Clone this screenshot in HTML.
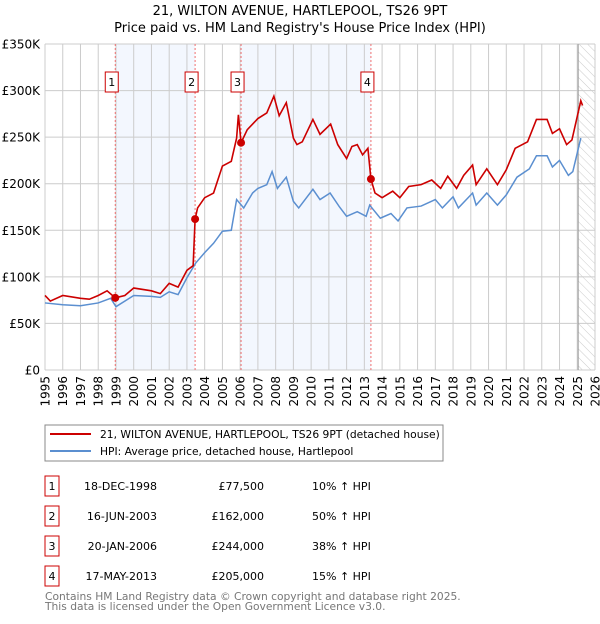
<!DOCTYPE html>
<html><head><meta charset="utf-8"><style>
body{margin:0;background:#fff;font-family:"DejaVu Sans","Liberation Sans",sans-serif;}
svg text{font-family:"DejaVu Sans","Liberation Sans",sans-serif;}
</style></head><body>
<svg id="c" width="600" height="620" viewBox="0 0 600 620" xmlns="http://www.w3.org/2000/svg">
<defs><pattern id="hatch" width="6" height="6" patternUnits="userSpaceOnUse" patternTransform="rotate(-45)"><line x1="0" y1="0" x2="0" y2="6" stroke="#ccc" stroke-width="1"/></pattern></defs>
<text x="300" y="15" text-anchor="middle" font-size="13">21, WILTON AVENUE, HARTLEPOOL, TS26 9PT</text>
<text x="300" y="32" text-anchor="middle" font-size="13">Price paid vs. HM Land Registry's House Price Index (HPI)</text>
<g id="plot"></g>
<rect x="45" y="425" width="398" height="36" fill="none" stroke="#888"/>
<line x1="50" y1="434" x2="91" y2="434" stroke="#cc0000" stroke-width="2"/>
<text x="100" y="438" font-size="10.7">21, WILTON AVENUE, HARTLEPOOL, TS26 9PT (detached house)</text>
<line x1="50" y1="451" x2="91" y2="451" stroke="#5b8fd0" stroke-width="2"/>
<text x="100" y="455" font-size="10.7">HPI: Average price, detached house, Hartlepool</text>
<g id="table"></g>
<text x="45" y="600" font-size="10.7" fill="#777">Contains HM Land Registry data © Crown copyright and database right 2025.</text>
<text x="45" y="610" font-size="10.7" fill="#777">This data is licensed under the Open Government Licence v3.0.</text>
</svg>
<script>
const yTicks=[0,50,100,150,200,250,300,350];
const yTickLabels=["£0","£50K","£100K","£150K","£200K","£250K","£300K","£350K"];
const xYears=[1995,1996,1997,1998,1999,2000,2001,2002,2003,2004,2005,2006,2007,2008,2009,2010,2011,2012,2013,2014,2015,2016,2017,2018,2019,2020,2021,2022,2023,2024,2025,2026];
const hpiT=[1995,1996,1997,1998,1998.7,1999,2000,2001,2001.5,2002,2002.5,2003,2003.5,2004,2004.5,2005,2005.5,2005.8,2006.2,2006.7,2007,2007.5,2007.8,2008.1,2008.6,2009,2009.3,2010.1,2010.5,2011.07,2011.6,2012,2012.6,2013.1,2013.3,2013.9,2014.5,2014.9,2015.4,2016.2,2017,2017.4,2018,2018.3,2019.1,2019.3,2019.9,2020.5,2021,2021.6,2022.3,2022.7,2023.3,2023.6,2024,2024.5,2024.75,2025.2];
const hpiV=[72,70,69,72,77,68,80,79,78,84,81,99,115,126,136,149,150,183,174,190,195,199,213,195,207,181,174,194,183,190,175,165,170,165,177,163,168,160,174,176,183,174,186,174,190,177,190,177,188,207,216,230,230,218,225,209,213,249];
const redT=[1995,1995.3,1996,1997,1997.5,1998,1998.5,1998.96,1999.5,2000,2001,2001.5,2002,2002.5,2003,2003.35,2003.46,2003.6,2004,2004.5,2005,2005.5,2005.8,2005.9,2006.05,2006.4,2007,2007.5,2007.9,2008.2,2008.6,2009,2009.2,2009.5,2010.1,2010.5,2011.1,2011.5,2012,2012.3,2012.6,2012.9,2013.2,2013.37,2013.6,2014,2014.6,2015,2015.5,2016.2,2016.8,2017.3,2017.7,2018.2,2018.6,2019.1,2019.3,2019.9,2020.5,2021,2021.5,2022.2,2022.7,2023.3,2023.6,2024,2024.4,2024.7,2025.2,2025.3];
const redV=[80,74,80,77,76,80,85,77.5,80,88,85,82,93,89,107,112,162,174,185,190,219,224,249,274,244,258,270,276,294,273,287,249,242,245,269,253,264,242,227,240,242,231,238,205,190,185,192,185,197,199,204,195,208,195,209,220,199,216,199,215,238,245,269,269,254,259,242,247,289,284];
const saleT=[1998.96,2003.46,2006.05,2013.37];
const saleV=[77.5,162,244,205];
const saleLabels=["1","2","3","4"];
const saleDates=["18-DEC-1998","16-JUN-2003","20-JAN-2006","17-MAY-2013"];
const salePrices=["£77,500","£162,000","£244,000","£205,000"];
const saleHpi=["10% ↑ HPI","50% ↑ HPI","38% ↑ HPI","15% ↑ HPI"];
const X0=45,X1=595,Y0=370,Y1=44;
const xs=t=>X0+(t-1995)/(2026-1995)*(X1-X0);
const ys=v=>Y0-v/350*(Y0-Y1);
const NS="http://www.w3.org/2000/svg";
const plot=document.getElementById('plot');
function mk(tag,attrs,parent,txt){const e=document.createElementNS(NS,tag);for(const k in attrs)e.setAttribute(k,attrs[k]);if(txt!==undefined)e.textContent=txt;(parent||plot).appendChild(e);return e;}
let e;
e=mk('rect',{x:xs(saleT[0]),y:Y1,width:xs(saleT[1])-xs(saleT[0]),height:Y0-Y1,fill:'#eef3fd',opacity:0.7});

e=mk('rect',{x:xs(saleT[2]),y:Y1,width:xs(saleT[3])-xs(saleT[2]),height:Y0-Y1,fill:'#eef3fd',opacity:0.7});

e=mk('rect',{x:xs(2025.05),y:Y1,width:X1-xs(2025.05),height:Y0-Y1,fill:'url(#hatch)'});

xYears.forEach(y=>{e=mk('line',{x1:xs(y),x2:xs(y),y1:Y1,y2:Y0,stroke:'#ccc','stroke-width':1});

e=mk('text',{x:0,y:0,'font-size':12,'text-anchor':'end',transform:`translate(${xs(y)+4.5},376) rotate(-90)`},plot,String(y));
});
yTicks.forEach((v,i)=>{e=mk('line',{x1:X0,x2:X1,y1:ys(v),y2:ys(v),stroke:'#ccc','stroke-width':1});

e=mk('text',{x:40,y:ys(v)+4.5,'font-size':12,'text-anchor':'end'},plot,yTickLabels[i]);
});
e=mk('line',{x1:xs(2025.05),x2:xs(2025.05),y1:Y1,y2:Y0,stroke:'#999','stroke-width':1});

saleT.forEach((t,i)=>{e=mk('line',{x1:xs(t),x2:xs(t),y1:Y1,y2:Y0,stroke:'#f07070','stroke-width':1,'stroke-dasharray':'2,2'});
});
e=mk('polyline',{points:hpiT.map((t,i)=>xs(t)+','+ys(hpiV[i])).join(' '),fill:'none',stroke:'#5b8fd0','stroke-width':1.5});

e=mk('polyline',{points:redT.map((t,i)=>xs(t)+','+ys(redV[i])).join(' '),fill:'none',stroke:'#cc0000','stroke-width':1.6});

saleT.forEach((t,i)=>{
e=mk('circle',{cx:xs(t),cy:ys(saleV[i]),r:4,fill:'#cc0000'});

e=mk('rect',{x:xs(t)-10,y:72,width:13,height:20,fill:'#fff',stroke:'#cc0000'});

e=mk('text',{x:xs(t)-3.5,y:86,'font-size':11,'text-anchor':'middle'},plot,saleLabels[i]);
});
const tb=document.getElementById('table');
saleT.forEach((t,i)=>{const y=476+i*30;
e=mk('rect',{x:45,y:y,width:14,height:20,fill:'#fff',stroke:'#cc0000'},tb);

e=mk('text',{x:52,y:y+14,'font-size':11,'text-anchor':'middle'},tb,saleLabels[i]);

e=mk('text',{x:157,y:y+14,'font-size':11,'text-anchor':'end'},tb,saleDates[i]);

e=mk('text',{x:264,y:y+14,'font-size':11,'text-anchor':'end'},tb,salePrices[i]);

e=mk('text',{x:312,y:y+14,'font-size':11},tb,saleHpi[i]);
});
</script>
</body></html>
